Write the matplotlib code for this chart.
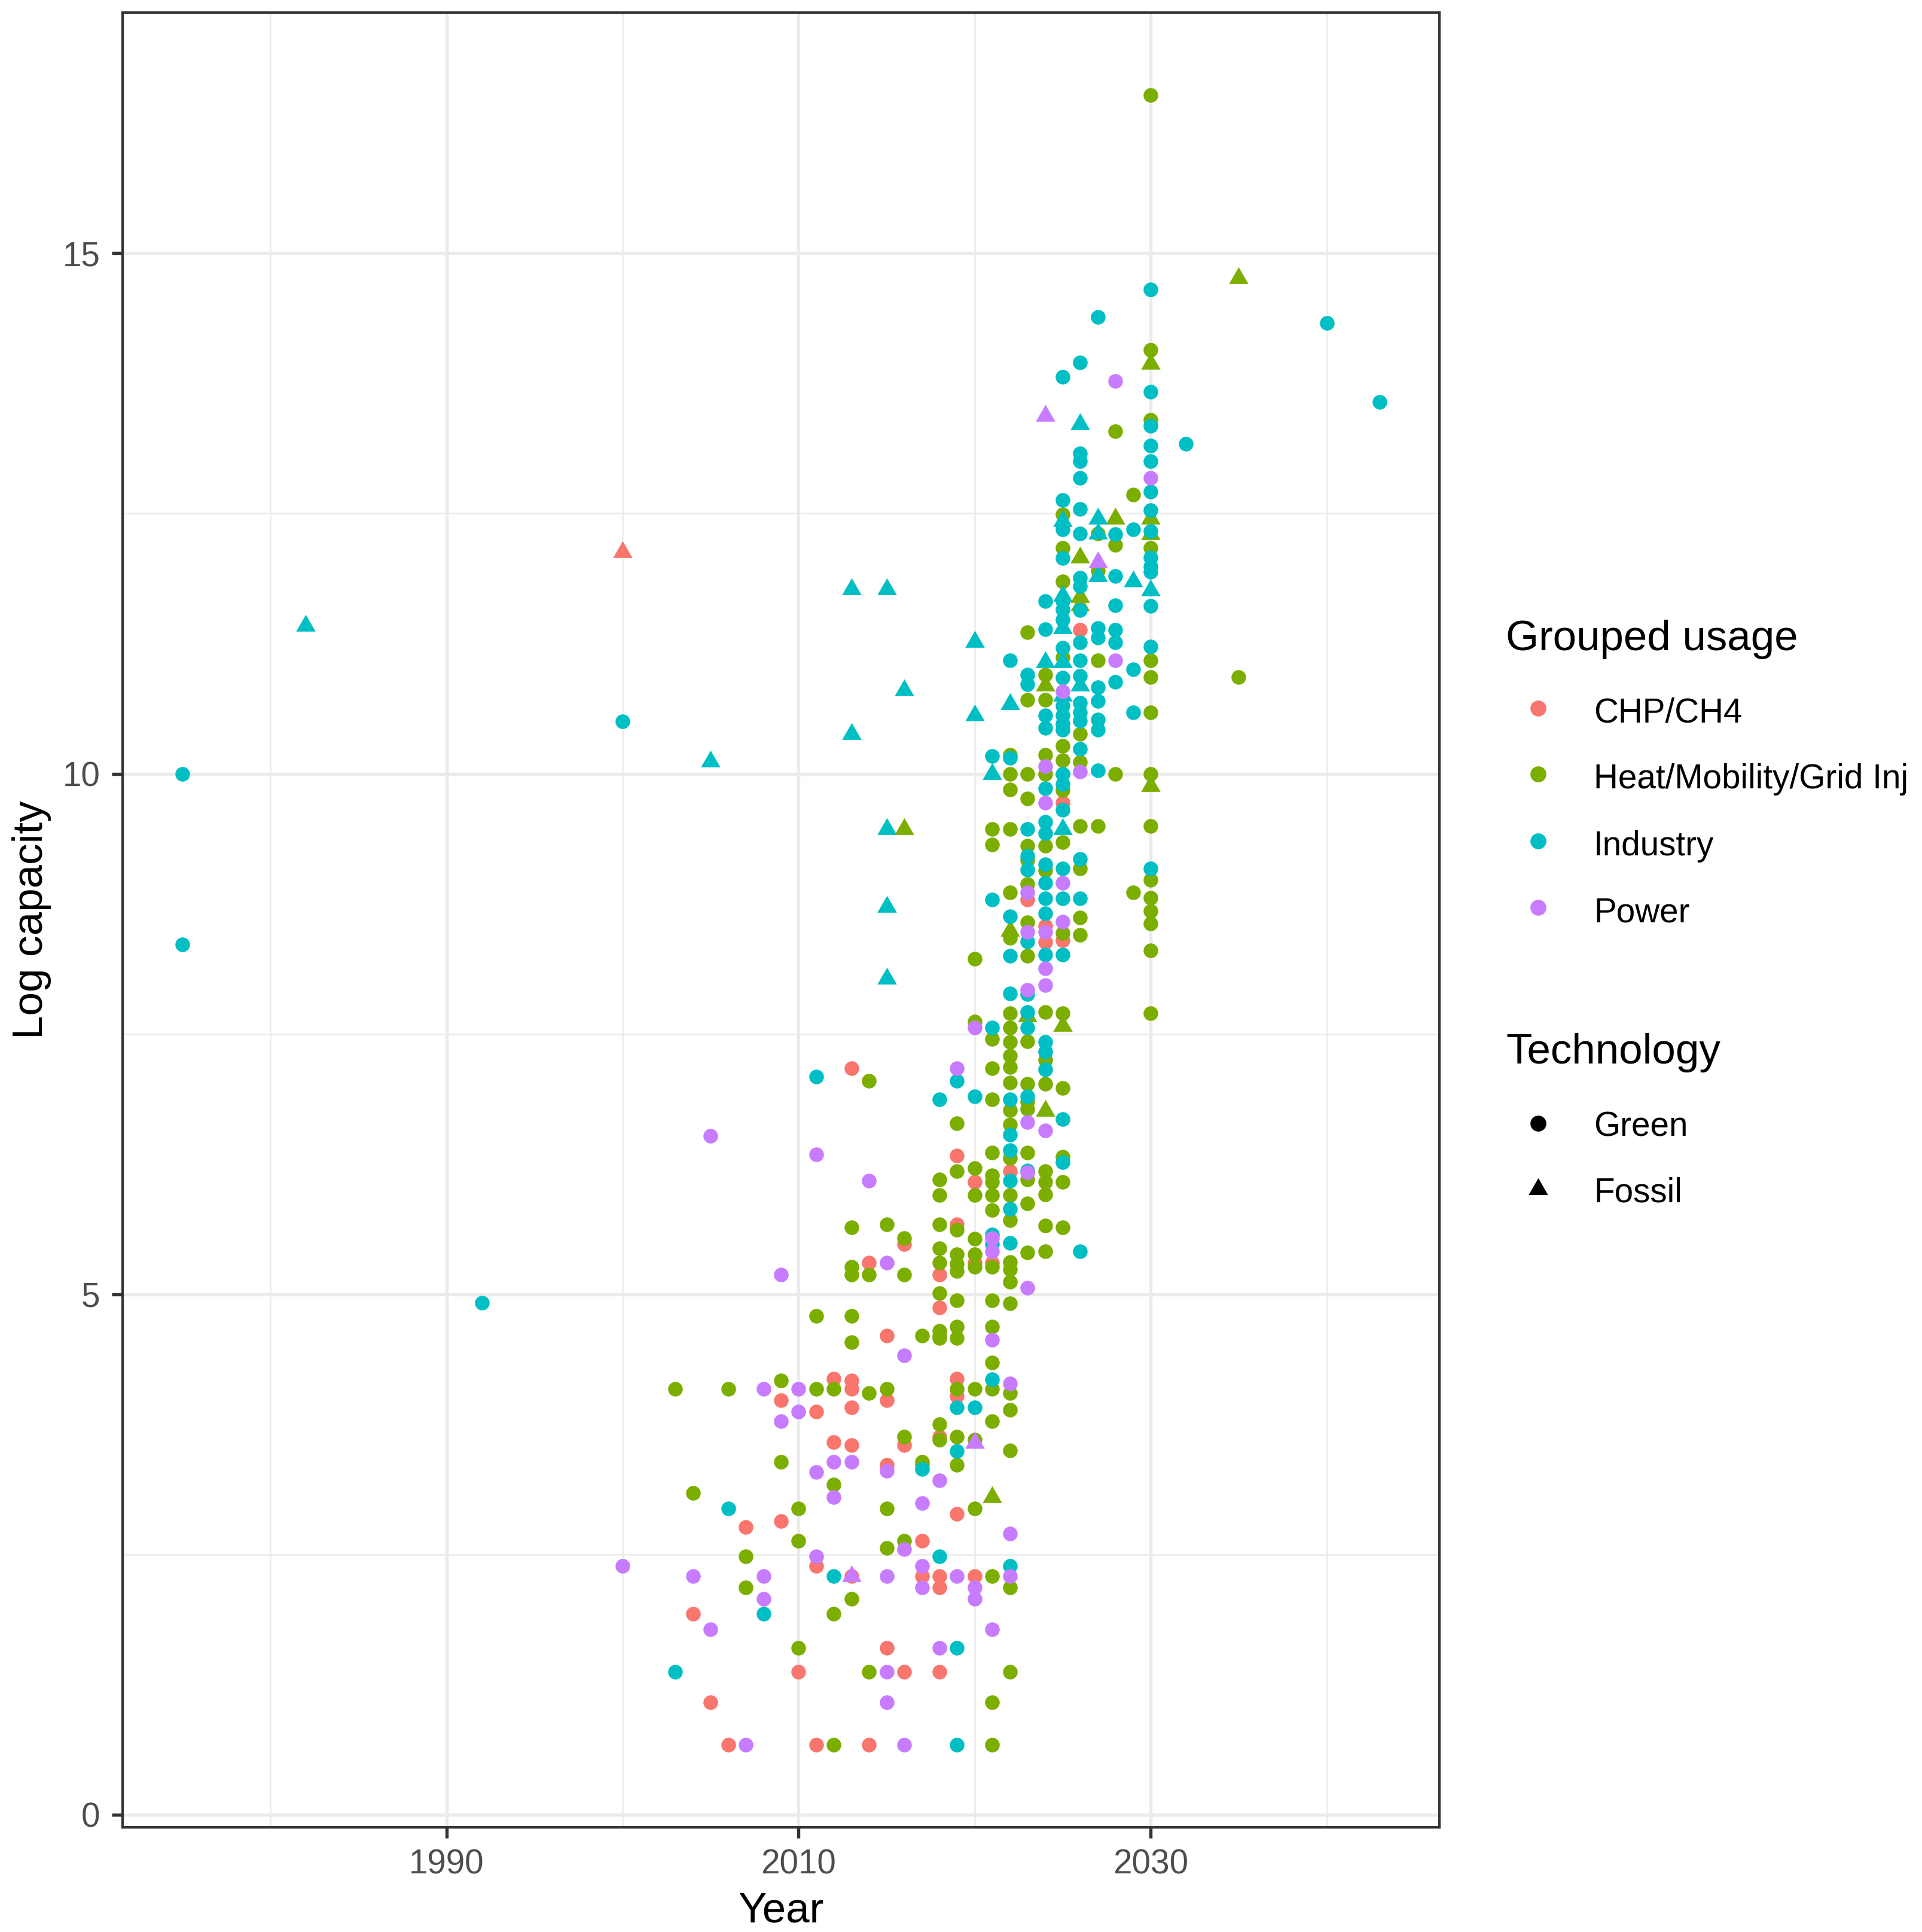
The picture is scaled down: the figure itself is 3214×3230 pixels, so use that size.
import numpy as np
import matplotlib
matplotlib.use("Agg")
import matplotlib.pyplot as plt
from matplotlib.lines import Line2D

plt.rcParams['font.family'] = ['Liberation Sans', 'DejaVu Sans']

# ---- data (year, log capacity) ----
# CHP/CH4
chp_green_year = [2004, 2005, 2006, 2007, 2009, 2009, 2010, 2011, 2011, 2011, 2012, 2012,
                  2013, 2013, 2013, 2013, 2013, 2013, 2014, 2014, 2015, 2015, 2015, 2015,
                  2016, 2016, 2016, 2017, 2017, 2017, 2018, 2018, 2018, 2018, 2018, 2018,
                  2019, 2019, 2019, 2019, 2019, 2020, 2020, 2020, 2021, 2022, 2023, 2024,
                  2024, 2025, 2025, 2026]
chp_green_cap = [1.93, 1.08, 0.67, 2.76, 3.98, 2.82, 1.37, 3.87, 2.39, 0.67, 4.19, 3.58,
                 7.17, 4.17, 4.09, 3.91, 3.55, 2.29, 5.30, 0.67, 4.60, 3.98, 3.36, 1.60,
                 5.48, 3.55, 1.37, 3.36, 2.63, 2.29, 5.19, 4.87, 3.63, 2.29, 2.18, 1.37,
                 6.33, 5.67, 4.19, 4.02, 2.89, 6.08, 5.30, 2.29, 5.30, 6.18, 8.79, 8.54,
                 8.38, 9.72, 8.40, 11.38]
chp_fossil_year = [2000]
chp_fossil_cap = [12.13]

# Heat/Mobility/Grid Inj
heat_green_year = [2003, 2004, 2006, 2007, 2007, 2009, 2009, 2010, 2010, 2010, 2011, 2011,
                   2012, 2012, 2012, 2012, 2013, 2013, 2013, 2013, 2013, 2013, 2014, 2014,
                   2014, 2014, 2015, 2015, 2015, 2015, 2016, 2016, 2016, 2016, 2017, 2017,
                   2018, 2018, 2018, 2018, 2018, 2018, 2018, 2018, 2018, 2018, 2018,
                   2019, 2019, 2019, 2019, 2019, 2019, 2019, 2019, 2019, 2019, 2019, 2019,
                   2020, 2020, 2020, 2020, 2020, 2020, 2020, 2020, 2020, 2020,
                   2021, 2021, 2021, 2021, 2021, 2021, 2021, 2021, 2021, 2021, 2021, 2021,
                   2021, 2021, 2021, 2021, 2021, 2021, 2021,
                   2022, 2022, 2022, 2022, 2022, 2022, 2022, 2022, 2022, 2022, 2022, 2022,
                   2022, 2022, 2022, 2022, 2022, 2022, 2022, 2022, 2022, 2022, 2022, 2022,
                   2022, 2022,
                   2023, 2023, 2023, 2023, 2023, 2023, 2023, 2023, 2023, 2023, 2023, 2023,
                   2023, 2023, 2023, 2023, 2023,
                   2024, 2024, 2024, 2024, 2024, 2024, 2024, 2024, 2024, 2024, 2024, 2024,
                   2024, 2024,
                   2025, 2025, 2025, 2025, 2025, 2025, 2025, 2025, 2025, 2025, 2025, 2025,
                   2025, 2025,
                   2026, 2026, 2026, 2026, 2026, 2026, 2027, 2027, 2027, 2027,
                   2028, 2028, 2028, 2029, 2029,
                   2030, 2030, 2030, 2030, 2030, 2030, 2030, 2030, 2030, 2030, 2030, 2030,
                   2030, 2030, 2030,
                   2035]
heat_green_cap = [4.09, 3.09, 4.09, 2.48, 2.18, 4.17, 3.39, 2.94, 2.63, 1.60, 4.09, 4.79,
                  4.09, 3.17, 1.93, 0.67, 2.07, 5.64, 5.26, 5.19, 4.79, 4.54, 4.05, 1.37,
                  7.05, 5.19, 4.09, 2.94, 2.56, 5.67, 3.63, 2.63, 5.54, 5.19, 3.39, 4.60,
                  3.75, 3.60, 6.10, 5.95, 5.67, 5.44, 5.30, 5.01, 4.65, 4.58, 4.60,
                  4.09, 3.63, 3.36, 6.64, 6.18, 5.62, 5.38, 5.29, 5.22, 4.94, 4.69, 4.58,
                  4.09, 2.94, 6.21, 5.95, 5.53, 5.38, 5.26, 8.22, 7.62, 3.60,
                  4.09, 3.78, 2.29, 1.08, 0.67, 6.87, 6.36, 6.14, 6.08, 5.95, 5.81, 5.26,
                  4.94, 4.69, 4.34, 9.47, 9.32, 7.45, 7.17,
                  4.05, 3.89, 3.50, 2.18, 1.37, 7.03, 6.77, 6.63, 6.31, 5.95, 5.71, 5.31,
                  5.24, 5.12, 4.91, 10.18, 10.00, 9.85, 9.47, 8.86, 8.42, 7.70, 7.56, 7.42,
                  7.29, 7.18,
                  7.02, 6.85, 6.78, 6.36, 6.10, 5.87, 5.40, 10.71, 10.00, 9.76, 9.31, 9.17,
                  8.94, 8.57, 8.25, 7.43, 11.36,
                  7.02, 6.18, 6.08, 5.96, 5.66, 5.41, 10.95, 10.71, 10.18, 10.00, 9.31, 9.07,
                  7.71, 7.25,
                  6.98, 6.32, 6.08, 5.64, 10.27, 10.13, 9.84, 9.34, 8.47, 7.70, 12.49, 12.17,
                  11.85, 11.12,
                  10.38, 10.11, 9.50, 9.09, 8.62, 8.45, 11.09, 9.50, 12.31, 11.95,
                  10.00, 13.29, 12.20, 8.86, 12.68,
                  11.09, 10.93, 10.59, 10.00, 9.50, 8.98, 8.81, 8.68, 8.56, 8.30, 7.70, 14.07,
                  13.40, 12.17, 16.52,
                  10.93]
heat_fossil_year = [2016, 2021, 2022, 2023, 2024, 2024, 2025, 2026, 2026, 2026, 2028, 2030,
                    2030, 2030, 2030, 2035]
heat_fossil_cap = [9.47, 3.05, 8.49, 7.67, 10.85, 6.76, 7.58, 12.08, 11.70, 11.62, 12.45, 13.94,
                   12.45, 12.30, 9.88, 14.76]

# Industry
ind_green_year = [1975, 1975, 1992, 2000, 2003, 2006, 2008, 2011, 2012, 2017, 2018, 2018,
                  2019, 2019, 2019, 2019, 2019, 2020, 2020,
                  2021, 2021, 2021, 2021, 2021, 2021,
                  2022, 2022, 2022, 2022, 2022, 2022, 2022, 2022, 2022, 2022, 2022, 2022,
                  2023, 2023, 2023, 2023, 2023, 2023, 2023, 2023, 2023, 2023, 2023,
                  2024, 2024, 2024, 2024, 2024, 2024, 2024, 2024, 2024, 2024, 2024, 2024,
                  2024, 2024, 2024,
                  2025, 2025, 2025, 2025, 2025, 2025, 2025, 2025, 2025, 2025, 2025, 2025,
                  2025, 2025, 2025, 2025, 2025, 2025, 2025, 2025, 2025,
                  2026, 2026, 2026, 2026, 2026, 2026, 2026, 2026, 2026, 2026, 2026, 2026,
                  2026, 2026, 2026, 2026, 2026, 2026, 2026,
                  2027, 2027, 2027, 2027, 2027, 2027, 2027, 2027,
                  2028, 2028, 2028, 2028, 2028, 2028, 2029, 2029, 2029,
                  2030, 2030, 2030, 2030, 2030, 2030, 2030, 2030, 2030, 2030, 2030, 2030,
                  2030, 2030,
                  2032, 2040, 2043]
ind_green_cap = [10.00, 8.36, 4.92, 10.50, 1.37, 2.94, 1.93, 7.09, 2.29, 3.32, 2.48, 6.87,
                 3.91, 3.49, 1.60, 0.67, 7.05, 3.91, 6.90,
                 4.18, 5.57, 5.48, 10.17, 8.79, 7.56,
                 2.39, 6.87, 6.53, 6.38, 6.09, 5.82, 5.49, 11.09, 10.15, 8.63, 8.25, 7.89,
                 6.90, 6.19, 10.95, 10.86, 9.47, 9.21, 9.08, 8.39, 7.88, 7.71, 7.56,
                 10.56, 10.44, 9.86, 9.54, 9.43, 9.13, 8.95, 8.80, 8.66, 8.26, 7.42, 7.33,
                 7.16, 11.66, 11.39,
                 6.68, 6.27, 10.92, 10.65, 10.56, 10.48, 10.42, 10.00, 9.90, 9.65, 9.09, 8.80,
                 8.26, 13.81, 12.63, 12.35, 12.07, 11.66, 11.58, 11.48, 11.21,
                 5.41, 11.09, 10.94, 10.68, 10.59, 10.51, 10.24, 9.18, 8.80, 13.95, 13.08, 13.00,
                 12.84, 12.54, 12.31, 11.88, 11.80, 11.57, 11.26,
                 10.83, 10.70, 10.52, 10.42, 10.03, 14.39, 11.40, 11.31,
                 10.88, 12.30, 11.90, 11.62, 11.38, 11.26, 11.00, 10.59, 12.35,
                 9.09, 14.65, 13.67, 13.34, 13.15, 13.00, 12.71, 12.53, 12.33, 12.08, 11.99, 11.94,
                 11.61, 11.22,
                 13.17, 14.33, 13.57]
ind_fossil_year = [1982, 2005, 2013, 2013, 2015, 2015, 2015, 2015, 2016, 2020, 2020, 2021,
                   2022, 2024, 2025, 2025, 2025, 2025, 2025, 2025, 2026, 2026, 2027, 2027,
                   2027, 2029, 2030]
ind_fossil_cap = [11.42, 10.12, 11.77, 10.38, 11.77, 9.47, 8.72, 8.03, 10.80, 11.27, 10.56, 10.00,
                  10.67, 11.07, 11.07, 10.75, 9.47, 12.43, 11.71, 11.40, 10.85, 13.36, 12.45, 12.31,
                  11.90, 11.85, 11.76]

# Power
pow_green_year = [2000, 2004, 2005, 2005, 2007, 2008, 2008, 2008, 2009, 2009, 2010, 2010,
                  2011, 2011, 2011, 2012, 2012, 2013, 2014, 2015, 2015, 2015, 2015, 2015,
                  2016, 2016, 2016, 2017, 2017, 2017, 2018, 2018, 2019, 2019, 2020, 2020,
                  2020, 2021, 2021, 2021, 2021, 2022, 2022, 2022,
                  2023, 2023, 2023, 2023, 2023, 2023, 2024, 2024, 2024, 2024, 2024, 2024,
                  2025, 2025, 2025, 2026, 2028, 2028, 2030]
pow_green_cap = [2.39, 2.29, 1.78, 6.52, 0.67, 4.09, 2.29, 2.07, 3.78, 5.19, 4.09, 3.87,
                 3.29, 2.48, 6.34, 3.39, 3.05, 3.39, 6.09, 3.30, 2.29, 1.37, 1.08, 5.30,
                 2.55, 0.67, 4.41, 2.99, 2.39, 2.18, 3.21, 1.60, 2.29, 7.17, 2.18, 2.07,
                 7.56, 1.78, 5.54, 5.41, 4.56, 4.14, 2.70, 2.29,
                 6.65, 6.17, 5.06, 8.86, 8.48, 7.92, 6.57, 10.07, 9.72, 8.48, 8.13, 7.97,
                 10.79, 8.95, 8.58, 10.02, 11.09, 13.77, 12.84]
pow_fossil_year = [2013, 2020, 2024, 2027]
pow_fossil_cap = [2.29, 3.57, 13.44, 12.03]

usage_labels = ['CHP/CH4', 'Heat/Mobility/Grid Inj', 'Industry', 'Power']
tech_labels = ['Green', 'Fossil']
usage_colors = ['#F8766D', '#7CAE00', '#00BFC4', '#C77CFF']

groups = [
    (chp_green_year, chp_green_cap, chp_fossil_year, chp_fossil_cap),
    (heat_green_year, heat_green_cap, heat_fossil_year, heat_fossil_cap),
    (ind_green_year, ind_green_cap, ind_fossil_year, ind_fossil_cap),
    (pow_green_year, pow_green_cap, pow_fossil_year, pow_fossil_cap),
]

# equilateral triangle like ggplot shape 17
r3 = np.sqrt(3)
tri = [(-1, -1 / r3), (1, -1 / r3), (0, 2 / r3), (-1, -1 / r3)]

W, H = 3214, 3230
fig = plt.figure(figsize=(W / 300, H / 300), dpi=300)
ax = fig.add_axes([205 / W, 1 - 3055 / H, (2407 - 205) / W, (3055 - 21) / H])

for (gy, gc, fy, fc), col in zip(groups, usage_colors):
    ax.scatter(gy, gc, s=34.6, marker='o', color=col, linewidths=0, zorder=3)
    ax.scatter(fy, fc, s=81, marker=tri, color=col, linewidths=0, zorder=3)

# ggplot style 5% expansion
all_x = np.concatenate([np.r_[g[0], g[2]] for g in groups])
all_y = np.concatenate([np.r_[g[1], g[3]] for g in groups])
xr = all_x.max() - all_x.min()
yr = all_y.max() - all_y.min()
ax.set_xlim(all_x.min() - 0.05 * xr, all_x.max() + 0.05 * xr)
ax.set_ylim(all_y.min() - 0.05 * yr, all_y.max() + 0.05 * yr)

ax.set_xticks([1990, 2010, 2030])
ax.set_xticks([1980, 2000, 2020, 2040], minor=True)
ax.set_yticks([0, 5, 10, 15])
ax.set_yticks([2.5, 7.5, 12.5], minor=True)
ax.grid(which='major', color='#EBEBEB', lw=1.3, zorder=0)
ax.grid(which='minor', color='#EBEBEB', lw=0.6, zorder=0)
ax.set_axisbelow(True)

for sp in ax.spines.values():
    sp.set_color('#333333')
    sp.set_linewidth(1.0)
ax.tick_params(which='major', length=4.4, width=1.3, color='#333333',
               labelsize=13.6, labelcolor='#4D4D4D')
ax.tick_params(axis='x', pad=4.0)
ax.tick_params(axis='y', pad=4.6)
ax.tick_params(which='minor', length=0)

ax.set_xlabel('Year', fontsize=17, va='baseline')
ax.xaxis.set_label_coords(0.5, ((1 - 3213 / H) - (1 - 3055 / H)) / ((3055 - 21) / H))
ax.set_ylabel('Log capacity', fontsize=17, va='center')
ax.yaxis.set_label_coords((53 - 205) / (2407 - 205), 0.5)

# legends drawn in figure pixel positions
def fx(px):
    return px / W

def fy(py):
    return 1 - py / H

fig.text(fx(2518), fy(1087), 'Grouped usage', fontsize=17, va='baseline')
rows = [1208, 1318, 1430, 1541]
for lab, col, base in zip(usage_labels, usage_colors, rows):
    fig.add_artist(Line2D([fx(2572)], [fy(base - 24)], marker='o', ms=6.4, color=col,
                          mew=0, ls='none', transform=fig.transFigure))
    fig.text(fx(2665), fy(base), lab, fontsize=13.6, va='baseline')

fig.text(fx(2518), fy(1778), 'Technology', fontsize=17, va='baseline')
for lab, mk, base, ms in zip(tech_labels, ['o', tri], [1899, 2009], [6.4, 9.0]):
    fig.add_artist(Line2D([fx(2572)], [fy(base - 21)], marker=mk, ms=ms, color='black',
                          mew=0, ls='none', transform=fig.transFigure))
    fig.text(fx(2665), fy(base), lab, fontsize=13.6, va='baseline')

fig.savefig('out.png', dpi=300, facecolor='white')
